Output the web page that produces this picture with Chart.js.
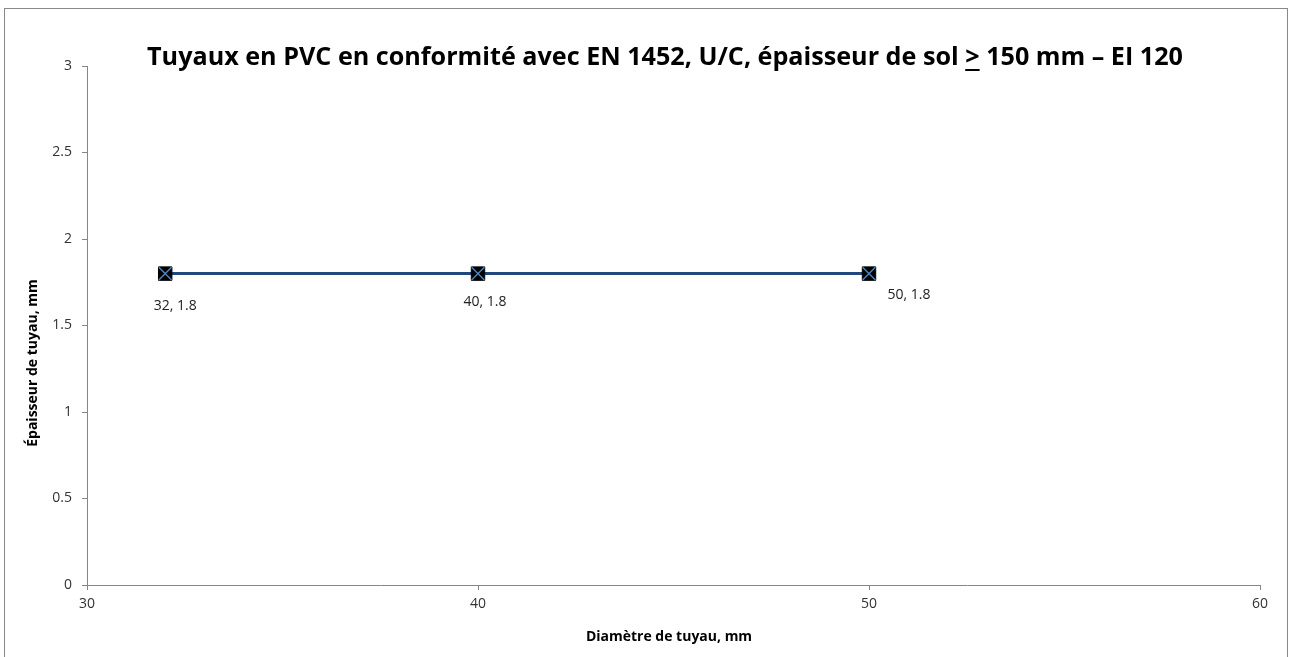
<!DOCTYPE html>
<html>
<head>
<meta charset="utf-8">
<script src="https://cdn.jsdelivr.net/npm/chart.js@4/dist/chart.umd.min.js"></script>
<style>
  body { margin: 0; background: #fff; }
  canvas { display: block; }
</style>
</head>
<body>
<canvas id="chart" width="1290" height="657"></canvas>
<script>
// values
const diameters = [32, 40, 50];
const thickness = [1.8, 1.8, 1.8];
const xTicks = [30, 40, 50, 60];
const yTicks = [0, 0.5, 1, 1.5, 2, 2.5, 3];

const titleBefore = 'Tuyaux en PVC en conformité avec EN 1452, U/C, épaisseur de sol ';
const titleMark = '>';
const titleAfter = ' 150 mm – EI 120';
const xTitle = 'Diamètre de tuyau, mm';
const yTitle = 'Épaisseur de tuyau, mm';

const FONT = '"Open Sans", Lato, sans-serif';
const points = diameters.map((d, i) => ({ x: d, y: thickness[i] }));

// label nudges, in px, per point (moved by hand in the original)
const labelShift = [[10, 32], [7, 28], [40, 21]];

const decor = {
  id: 'decor',
  beforeDraw(chart) {
    const c = chart.ctx;
    c.save();
    c.strokeStyle = '#888';
    c.lineWidth = 1;
    c.strokeRect(4.5, 8.5, 1283, 660);
    c.restore();
  },
  afterDraw(chart) {
    const c = chart.ctx;
    c.save();
    c.fillStyle = '#000';

    // title, with the underlined ">" ; sized to the original's width
    let size = 22;
    c.font = 'bold ' + size + 'px ' + FONT;
    const full = c.measureText(titleBefore + titleMark + titleAfter).width;
    size = size * 1036 / full;
    c.font = 'bold ' + size.toFixed(2) + 'px ' + FONT;
    c.textBaseline = 'middle';
    const w1 = c.measureText(titleBefore).width;
    const w2 = c.measureText(titleMark).width;
    const w3 = c.measureText(titleAfter).width;
    const x = 665 - (w1 + w2 + w3) / 2;
    const ty = 58;
    c.textAlign = 'left';
    c.fillText(titleBefore, x, ty);
    c.fillText(titleMark, x + w1, ty);
    c.fillRect(x + w1, ty + 11, w2, 2);
    c.fillText(titleAfter, x + w1 + w2, ty);

    // axis titles
    c.font = 'bold 14px ' + FONT;
    c.textAlign = 'center';
    c.fillText(xTitle, 669, 637);
    c.save();
    c.translate(33, 363);
    c.rotate(-Math.PI / 2);
    c.fillText(yTitle, 0, 0);
    c.restore();

    // data labels
    c.font = '14px ' + FONT;
    c.fillStyle = '#222';
    const xs = chart.scales.x, ys = chart.scales.y;
    points.forEach((p, i) => {
      const px = xs.getPixelForValue(p.x) + labelShift[i][0];
      const py = ys.getPixelForValue(p.y) + labelShift[i][1];
      c.fillText(p.x + ', ' + p.y, px, py);
    });
    c.restore();
  }
};

new Chart(document.getElementById('chart'), {
  type: 'scatter',
  data: {
    datasets: [{
      data: points,
      order: 1,
      showLine: true,
      borderColor: '#1F497D',
      borderWidth: 3,
      pointStyle: 'rect',
      pointRadius: 9.5,
      pointBackgroundColor: '#000',
      pointBorderColor: '#000',
      pointBorderWidth: 1
    }, {
      data: points,
      order: 0,
      showLine: false,
      pointStyle: 'crossRot',
      pointRadius: 9,
      pointBorderColor: '#4F81BD',
      pointBorderWidth: 1.5
    }]
  },
  options: {
    responsive: false,
    animation: false,
    layout: { padding: { left: 0, right: 30, top: 66, bottom: 0 } },
    plugins: { legend: { display: false }, tooltip: { enabled: false } },
    scales: {
      x: {
        type: 'linear',
        min: xTicks[0],
        max: xTicks[xTicks.length - 1],
        afterBuildTicks: s => { s.ticks = xTicks.map(v => ({ value: v })); },
        afterFit: s => { s.height = 72; },
        grid: { drawOnChartArea: false, tickLength: 5, color: '#868686' },
        border: { color: '#868686' },
        ticks: { padding: 6, color: '#333', font: { family: FONT, size: 14 } }
      },
      y: {
        min: yTicks[0],
        max: yTicks[yTicks.length - 1],
        afterBuildTicks: s => { s.ticks = yTicks.map(v => ({ value: v })); },
        afterFit: s => { s.width = 87; },
        grid: { drawOnChartArea: false, tickLength: 5, color: '#868686' },
        border: { color: '#868686' },
        ticks: {
          padding: 10, color: '#333', font: { family: FONT, size: 14 },
          callback: v => String(v)
        }
      }
    }
  },
  plugins: [decor]
});
</script>
</body>
</html>
